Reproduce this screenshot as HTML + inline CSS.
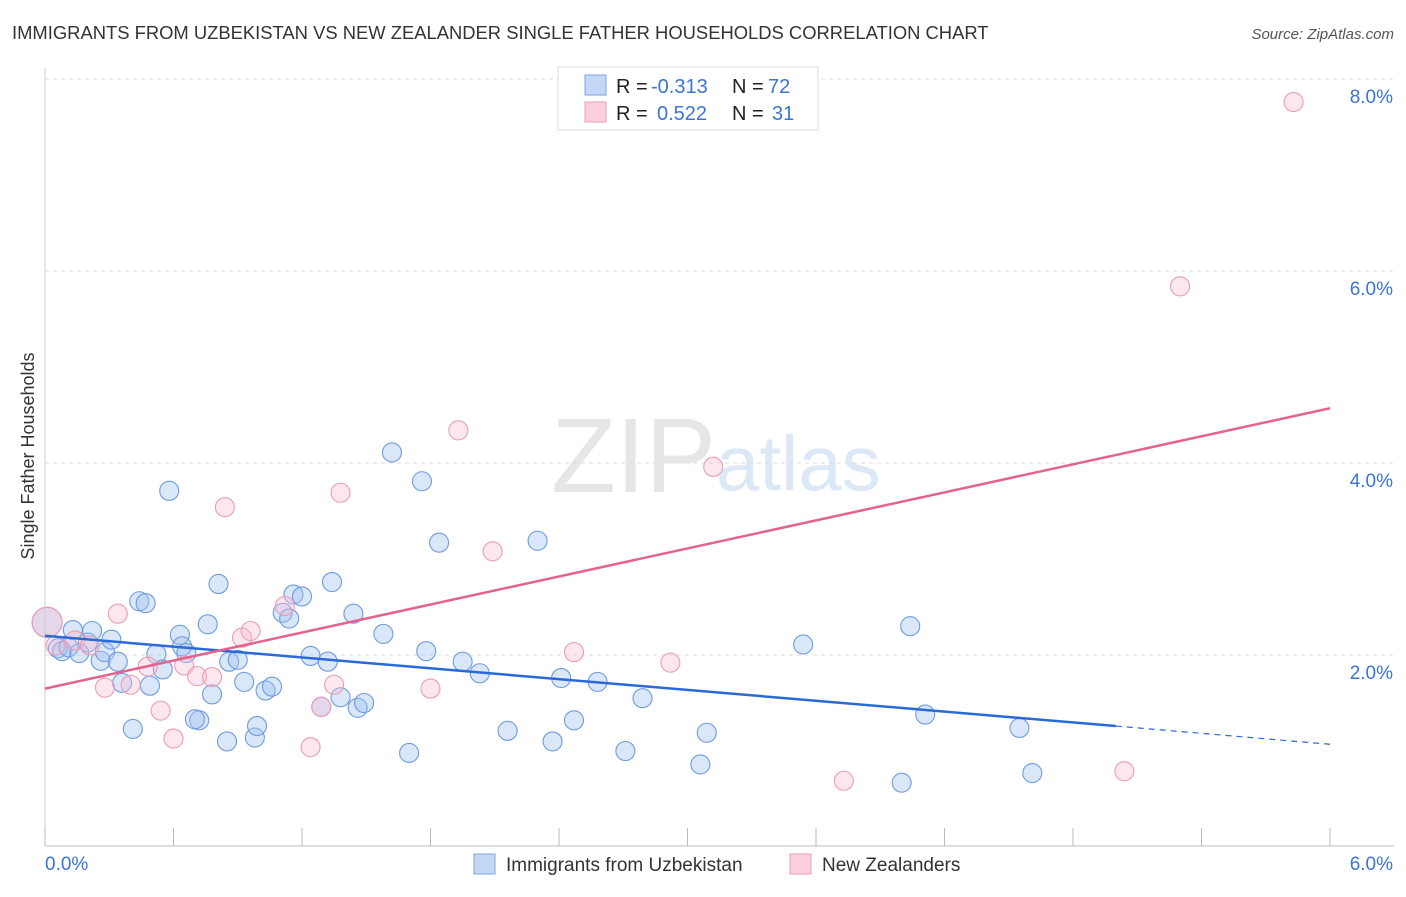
<!DOCTYPE html>
<html><head><meta charset="utf-8"><style>
body{margin:0;background:#fff;font-family:"Liberation Sans",sans-serif;}
svg text{font-family:"Liberation Sans",sans-serif;}
</style></head><body>
<svg id="chart" width="1406" height="892" xmlns="http://www.w3.org/2000/svg">
<text x="12" y="39" font-size="18.4" fill="#333">IMMIGRANTS FROM UZBEKISTAN VS NEW ZEALANDER SINGLE FATHER HOUSEHOLDS CORRELATION CHART</text>
<text x="1394" y="39" font-size="15" fill="#555" font-style="italic" text-anchor="end">Source: ZipAtlas.com</text>
<text x="716" y="492" font-size="106" fill="#e6e6e6" text-anchor="end" font-family="Liberation Serif">ZIP</text>
<text x="716" y="490" font-size="78" fill="#dde8f6">atlas</text>
<g id="grid"></g>
<g id="axes"></g>
<g id="points"></g>
<g id="trends"></g>
<text x="34" y="456" font-size="18" fill="#333" text-anchor="middle" transform="rotate(-90 34 456)">Single Father Households</text>
<g>
<rect x="558" y="67" width="260" height="63" fill="#fff" stroke="#ddd"/>
<rect x="585" y="75" width="21" height="20" fill="#c4d8f5" stroke="#7aa5e0"/>
<rect x="585" y="102" width="21" height="20" fill="#fbd0dc" stroke="#eba0b6"/>
<text x="616" y="93" font-size="20" fill="#222">R =</text>
<text x="651" y="93" font-size="20" fill="#3a75d4">-0.313</text>
<text x="732" y="93" font-size="20" fill="#222">N =</text>
<text x="768" y="93" font-size="20" fill="#3a75d4">72</text>
<text x="616" y="120" font-size="20" fill="#222">R =</text>
<text x="657" y="120" font-size="20" fill="#3a75d4">0.522</text>
<text x="732" y="120" font-size="20" fill="#222">N =</text>
<text x="772" y="120" font-size="20" fill="#3a75d4">31</text>
</g>
<g>
<rect x="474" y="854" width="21" height="20" fill="#c4d8f5" stroke="#7aa5e0"/>
<text x="506" y="871" font-size="19" fill="#333">Immigrants from Uzbekistan</text>
<rect x="790" y="854" width="21" height="20" fill="#fbd0dc" stroke="#eba0b6"/>
<text x="822" y="871" font-size="19" fill="#333">New Zealanders</text>
</g>
</svg>
<script>
const blueX=[0.01,0.06,0.08,0.11,0.13,0.16,0.20,0.22,0.26,0.28,0.31,0.34,0.36,0.41,0.44,0.47,0.49,0.52,0.55,0.58,0.63,0.64,0.66,0.72,0.70,0.76,0.78,0.81,0.85,0.86,0.90,0.93,0.98,0.99,1.03,1.06,1.11,1.14,1.16,1.20,1.24,1.29,1.32,1.34,1.38,1.44,1.46,1.49,1.58,1.62,1.70,1.76,1.78,1.84,1.95,2.03,2.16,2.30,2.37,2.41,2.47,2.58,2.71,2.79,3.06,3.09,3.54,4.00,4.04,4.11,4.55,4.61];
const blueY=[2.34,2.07,2.04,2.08,2.26,2.02,2.13,2.25,1.94,2.03,2.16,1.93,1.71,1.23,2.56,2.54,1.68,2.01,1.85,3.71,2.21,2.09,2.02,1.32,1.33,2.32,1.59,2.74,1.10,1.93,1.95,1.72,1.14,1.26,1.63,1.67,2.44,2.38,2.63,2.61,1.99,1.46,1.93,2.76,1.56,2.43,1.45,1.50,2.22,4.11,0.98,3.81,2.04,3.17,1.93,1.81,1.21,3.19,1.10,1.76,1.32,1.72,1.00,1.55,0.86,1.19,2.11,0.67,2.30,1.38,1.24,0.77];
const pinkX=[0.01,0.05,0.14,0.21,0.28,0.34,0.40,0.48,0.54,0.60,0.65,0.71,0.78,0.84,0.92,0.96,1.12,1.24,1.29,1.35,1.38,1.80,1.93,2.09,2.47,2.92,3.12,3.73,5.04,5.30,5.83];
const pinkY=[2.34,2.10,2.15,2.10,1.66,2.43,1.69,1.88,1.42,1.13,1.89,1.78,1.77,3.54,2.18,2.25,2.51,1.04,1.46,1.69,3.69,1.65,4.34,3.08,2.03,1.92,3.96,0.69,0.79,5.84,7.76];
const blueTrend=[2.20,1.26,1.07];
const pinkTrend=[1.65,4.57];
const yTicks=[2,4,6,8];
const yTickLabels=["2.0%","4.0%","6.0%","8.0%"];
const xTickLabels=["0.0%","6.0%"];

const X=v=>45+v/6*1285, Y=v=>847-v*96;
const NS="http://www.w3.org/2000/svg";
function mk(tag,attrs,parent){const e=document.createElementNS(NS,tag);for(const k in attrs)e.setAttribute(k,attrs[k]);document.getElementById(parent).appendChild(e);return e;}
yTicks.forEach((t,i)=>{
 const l=mk('line',{x1:45,x2:1394,y1:Y(t),y2:Y(t),stroke:'#ddd','stroke-dasharray':'4,4'},'grid');
 
 
 const tx=mk('text',{x:1393,y:Y(t)+24,'font-size':19,fill:'#3a75d4','text-anchor':'end'},'grid');
 tx.textContent=yTickLabels[i];
 
 
});
const ax=mk('line',{x1:45,x2:1394,y1:846,y2:846,stroke:'#bbb'},'axes');


const ay=mk('line',{x1:45,x2:45,y1:68,y2:846,stroke:'#ccc'},'axes');


for(let k=0;k<=10;k++){
 const t=mk('line',{x1:45+k*128.5,x2:45+k*128.5,y1:828,y2:846,stroke:'#bbb'},'axes');
 
 
}
[[0,45,'start'],[6,1393,'end']].forEach((d,i)=>{
 const t=mk('text',{x:d[1],y:870,'font-size':19,fill:'#3a75d4','text-anchor':d[2]},'axes');
 t.textContent=xTickLabels[i];
 
 
});
blueX.forEach((x,i)=>{
 const c=mk('circle',{cx:X(x),cy:Y(blueY[i]),r:i===0?15:9.5,fill:'rgba(160,195,240,0.4)',stroke:'#6d9be0','stroke-width':1.1},'points');
 
 
});
pinkX.forEach((x,i)=>{
 const c=mk('circle',{cx:X(x),cy:Y(pinkY[i]),r:i===0?15:9.5,fill:'rgba(248,185,205,0.35)',stroke:'#ec9cb5','stroke-width':1.1},'points');
 
 
});
const b1=mk('line',{x1:X(0),y1:Y(blueTrend[0]),x2:X(5),y2:Y(blueTrend[1]),stroke:'#2a6ad8','stroke-width':2.5},'trends');


const b2=mk('line',{x1:X(5),y1:Y(blueTrend[1]),x2:X(6),y2:Y(blueTrend[2]),stroke:'#2a6ad8','stroke-width':1.2,'stroke-dasharray':'6,5'},'trends');


const p1=mk('line',{x1:X(0),y1:Y(pinkTrend[0]),x2:X(6),y2:Y(pinkTrend[1]),stroke:'#e4638e','stroke-width':2.5},'trends');


</script>
</body></html>
